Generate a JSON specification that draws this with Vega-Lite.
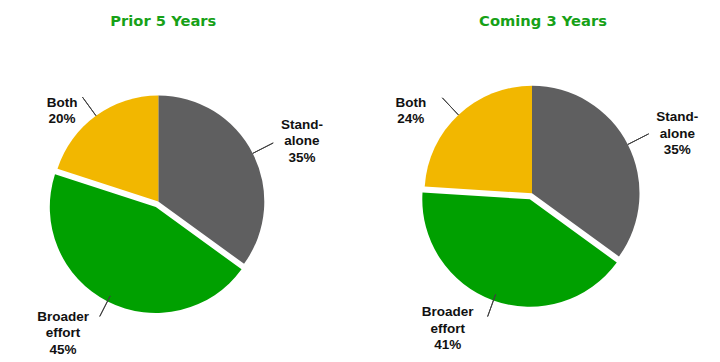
{
  "$schema": "https://vega.github.io/schema/vega-lite/v6.json",
  "padding": {"top": 14, "left": 0, "right": 0, "bottom": 0},
  "background": "white",
  "spacing": 45,
  "bounds": "flush",
  "config": {
    "view": {"stroke": null},
    "title": {"font": "DejaVu Sans", "fontSize": 14.7, "fontWeight": "bold", "color": "#17A117", "anchor": "middle", "offset": 4}
  },
  "datasets": {
    "shares": [
      {"period": "Prior 5 Years", "category": "Stand-alone", "order": 1, "value": 35, "label": "Stand-\nalone\n35%"},
      {"period": "Prior 5 Years", "category": "Broader effort", "order": 2, "value": 45, "label": "Broader\neffort\n45%"},
      {"period": "Prior 5 Years", "category": "Both", "order": 3, "value": 20, "label": "Both\n20%"},
      {"period": "Coming 3 Years", "category": "Stand-alone", "order": 1, "value": 35, "label": "Stand-\nalone\n35%"},
      {"period": "Coming 3 Years", "category": "Broader effort", "order": 2, "value": 41, "label": "Broader\neffort\n41%"},
      {"period": "Coming 3 Years", "category": "Both", "order": 3, "value": 24, "label": "Both\n24%"}
    ]
  },
  "hconcat": [
    {
      "title": {"text": "Prior 5 Years", "dx": 5},
      "width": 316.6,
      "height": 337,
      "data": {"name": "shares"},
      "transform": [
        {"filter": "datum.period === 'Prior 5 Years'"},
        {"stack": "value", "groupby": ["period"], "sort": [{"field": "order", "order": "ascending"}], "as": ["v0", "v1"]}
      ],
      "encoding": {
        "theta": {"field": "v0", "type": "quantitative", "scale": {"domain": [0, 100], "range": [0, 6.283185307]}},
        "theta2": {"field": "v1"},
        "color": {"field": "category", "type": "nominal", "legend": null, "scale": {"domain": ["Stand-alone", "Broader effort", "Both"], "range": ["#5F5F60", "#00A000", "#F2B700"]}}
      },
      "layer": [
        {"transform": [{"filter": "datum.category !== 'Broader effort'"}], "mark": {"type": "arc", "outerRadius": 106}},
        {"transform": [{"filter": "datum.category === 'Broader effort'"}], "mark": {"type": "arc", "outerRadius": 106, "xOffset": -2.5, "yOffset": 5.5}},
        {"mark": {"type": "arc", "radius": 129, "radius2": 106, "padAngle": 3, "stroke": "#404040", "strokeWidth": 1, "fill": null}, "encoding": {"color": {"value": null}, "stroke": {"value": "#404040"}}},
        {"transform": [{"filter": "datum.category === 'Stand-alone'"}], "mark": {"type": "text", "radius": 162.8, "thetaOffset": 1.081, "font": "Liberation Sans", "fontWeight": "bold", "fontSize": 13.5, "lineHeight": 16.3, "lineBreak": "\n", "align": "center", "baseline": "middle"}, "encoding": {"text": {"field": "label"}, "theta2": null, "color": {"value": "#111111"}}},
        {"transform": [{"filter": "datum.category === 'Broader effort'"}], "mark": {"type": "text", "radius": 149.7, "thetaOffset": 1.632, "font": "Liberation Sans", "fontWeight": "bold", "fontSize": 13.5, "lineHeight": 16.3, "lineBreak": "\n", "align": "center", "baseline": "middle"}, "encoding": {"text": {"field": "label"}, "theta2": null, "color": {"value": "#111111"}}},
        {"transform": [{"filter": "datum.category === 'Both'"}], "mark": {"type": "text", "radius": 137.8, "thetaOffset": 0.483, "font": "Liberation Sans", "fontWeight": "bold", "fontSize": 13.5, "lineHeight": 16.3, "lineBreak": "\n", "align": "center", "baseline": "middle"}, "encoding": {"text": {"field": "label"}, "theta2": null, "color": {"value": "#111111"}}}
      ]
    },
    {
      "title": {"text": "Coming 3 Years", "dx": 11},
      "width": 340,
      "height": 320.6,
      "data": {"name": "shares"},
      "transform": [
        {"filter": "datum.period === 'Coming 3 Years'"},
        {"stack": "value", "groupby": ["period"], "sort": [{"field": "order", "order": "ascending"}], "as": ["v0", "v1"]}
      ],
      "encoding": {
        "theta": {"field": "v0", "type": "quantitative", "scale": {"domain": [0, 100], "range": [0, 6.283185307]}},
        "theta2": {"field": "v1"},
        "color": {"field": "category", "type": "nominal", "legend": null, "scale": {"domain": ["Stand-alone", "Broader effort", "Both"], "range": ["#5F5F60", "#00A000", "#F2B700"]}}
      },
      "layer": [
        {"transform": [{"filter": "datum.category !== 'Broader effort'"}], "mark": {"type": "arc", "outerRadius": 107.5}},
        {"transform": [{"filter": "datum.category === 'Broader effort'"}], "mark": {"type": "arc", "outerRadius": 107.5, "xOffset": -2.2, "yOffset": 6}},
        {"mark": {"type": "arc", "radius": 131, "radius2": 107.5, "padAngle": 3, "stroke": "#404040", "strokeWidth": 1, "fill": null}, "encoding": {"color": {"value": null}, "stroke": {"value": "#404040"}}},
        {"transform": [{"filter": "datum.category === 'Stand-alone'"}], "mark": {"type": "text", "radius": 164, "thetaOffset": 1.089, "font": "Liberation Sans", "fontWeight": "bold", "fontSize": 13.5, "lineHeight": 16.3, "lineBreak": "\n", "align": "center", "baseline": "middle"}, "encoding": {"text": {"field": "label"}, "theta2": null, "color": {"value": "#111111"}}},
        {"transform": [{"filter": "datum.category === 'Broader effort'"}], "mark": {"type": "text", "radius": 145.8, "thetaOffset": 1.559, "font": "Liberation Sans", "fontWeight": "bold", "fontSize": 13.5, "lineHeight": 16.3, "lineBreak": "\n", "align": "center", "baseline": "middle"}, "encoding": {"text": {"field": "label"}, "theta2": null, "color": {"value": "#111111"}}},
        {"transform": [{"filter": "datum.category === 'Both'"}], "mark": {"type": "text", "radius": 151.3, "thetaOffset": 0.579, "font": "Liberation Sans", "fontWeight": "bold", "fontSize": 13.5, "lineHeight": 16.3, "lineBreak": "\n", "align": "center", "baseline": "middle"}, "encoding": {"text": {"field": "label"}, "theta2": null, "color": {"value": "#111111"}}}
      ]
    }
  ]
}
